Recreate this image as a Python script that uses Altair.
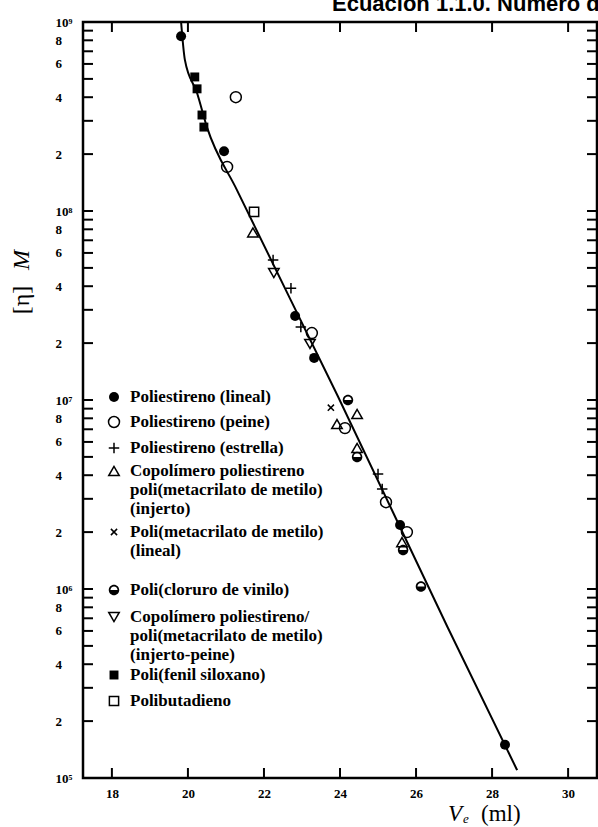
import altair as alt
import pandas as pd

# ---------------- data ----------------
ps_lineal_ve = [19.82, 20.95, 22.82, 23.32, 25.58, 28.34]
ps_lineal_eta = [8.4e8, 2.07e8, 2.78e7, 1.67e7, 2.18e6, 1.5e5]
ps_peine_ve = [21.26, 21.03, 23.26, 24.13, 25.21, 25.76]
ps_peine_eta = [4.0e8, 1.71e8, 2.26e7, 7.1e6, 2.88e6, 2.0e6]
ps_estrella_ve = [22.24, 22.71, 22.97, 25.0, 25.11]
ps_estrella_eta = [5.5e7, 3.9e7, 2.43e7, 4.06e6, 3.38e6]
copol_injerto_ve = [21.71, 23.92, 24.45, 24.45, 25.63]
copol_injerto_eta = [7.7e7, 7.46e6, 8.43e6, 5.57e6, 1.77e6]
pmma_ve = [23.76]
pmma_eta = [9.1e6]
pvc_ve = [24.21, 24.45, 25.66, 26.13]
pvc_eta = [1.0e7, 5.0e6, 1.61e6, 1.03e6]
copol_ip_ve = [22.26, 23.21]
copol_ip_eta = [4.7e7, 1.98e7]
fenil_ve = [20.18, 20.24, 20.37, 20.42]
fenil_eta = [5.12e8, 4.43e8, 3.22e8, 2.78e8]
pbd_ve = [21.74]
pbd_eta = [9.9e7]
curve_ve = [19.82, 19.92, 20.24, 20.50, 21.29, 23.95, 26.84, 28.66]
curve_eta = [1.0e9, 6.3e8, 4.21e8, 2.78e8, 1.29e8, 1.04e7, 6.22e5, 1.10e5]

x_ticks = [18, 20, 22, 24, 26, 28, 30]
y_label_values = [1e5, 2e5, 4e5, 6e5, 8e5, 1e6, 2e6, 4e6, 6e6, 8e6,
                  1e7, 2e7, 4e7, 6e7, 8e7, 1e8, 2e8, 4e8, 6e8, 8e8, 1e9]
y_label_texts = ["10⁵", "2", "4", "6", "8", "10⁶", "2", "4", "6", "8",
                 "10⁷", "2", "4", "6", "8", "10⁸", "2", "4", "6", "8", "10⁹"]
y_tick_decades = [1e5, 1e6, 1e7, 1e8]
y_tick_multipliers = [1, 2, 3, 4, 5, 6, 7, 8, 9]

legend_entries = [
    ("lineal", ["Poliestireno (lineal)"]),
    ("peine", ["Poliestireno (peine)"]),
    ("estrella", ["Poliestireno (estrella)"]),
    ("injerto", ["Copolímero poliestireno", "poli(metacrilato de metilo)", "(injerto)"]),
    ("pmma", ["Poli(metacrilato de metilo)", "(lineal)"]),
    ("pvc", ["Poli(cloruro de vinilo)"]),
    ("injpeine", ["Copolímero poliestireno/", "poli(metacrilato de metilo)", "(injerto-peine)"]),
    ("fenil", ["Poli(fenil siloxano)"]),
    ("pbd", ["Polibutadieno"]),
]

# ---------------- layout / style ----------------
W, H = 514, 756
PL, PT = 83, 22
legend_row_y = [397, 422, 448, 471, 532, 590, 617, 675, 701]
legend_line_gap = 19
legend_sym_x = 114
legend_text_x = 130

HALF = "M-1,0A1,1,0,0,1,1,0L0.68,0A0.68,0.68,0,0,0,-0.68,0ZM-1,0A1,1,0,0,0,1,0Z"
PLUS = "M-1,0L1,0M0,-1L0,1"
XMARK = "M-0.8,-0.8L0.8,0.8M-0.8,0.8L0.8,-0.8"

styles = {
    "lineal": dict(shape="circle", filled=True, size=100),
    "peine": dict(shape="circle", filled=False, size=120),
    "estrella": dict(shape=PLUS, filled=False, size=110),
    "injerto": dict(shape="triangle-up", filled=False, size=110),
    "pmma": dict(shape=XMARK, filled=False, size=60),
    "pvc": dict(shape=HALF, filled=True, size=110),
    "injpeine": dict(shape="triangle-down", filled=False, size=110),
    "fenil": dict(shape="square", filled=True, size=80),
    "pbd": dict(shape="square", filled=False, size=85),
}
series = {
    "lineal": (ps_lineal_ve, ps_lineal_eta),
    "peine": (ps_peine_ve, ps_peine_eta),
    "estrella": (ps_estrella_ve, ps_estrella_eta),
    "injerto": (copol_injerto_ve, copol_injerto_eta),
    "pmma": (pmma_ve, pmma_eta),
    "pvc": (pvc_ve, pvc_eta),
    "injpeine": (copol_ip_ve, copol_ip_eta),
    "fenil": (fenil_ve, fenil_eta),
    "pbd": (pbd_ve, pbd_eta),
}

SERIF = "Liberation Serif"
xscale = alt.Scale(domain=[17.24, 30.76], nice=False, zero=False)
yscale = alt.Scale(type="log", domain=[1e5, 1e9], nice=False)

label_expr = "".join(
    f"abs(datum.value - {v}) < {v * 1e-6} ? '{t}' : "
    for v, t in zip(y_label_values, y_label_texts)
) + "''"

xaxis = alt.Axis(values=x_ticks, ticks=False, tickSize=0, domain=False, grid=False,
                 labelPadding=9, labelFont=SERIF, labelFontWeight="bold",
                 labelFontSize=13, labelColor="black", title=None,
                 labelFlush=False, labelOverlap=False)
yaxis = alt.Axis(values=y_label_values, labelExpr=label_expr, ticks=False, tickSize=0,
                 domain=False, grid=False, labelAlign="left", labelPadding=28,
                 labelBaseline="middle", labelFont=SERIF, labelFontWeight="bold",
                 labelFontSize=13, labelColor="black", title=None,
                 labelFlush=False, labelOverlap=False)

X = alt.X("ve:Q", scale=xscale, axis=xaxis)
Y = alt.Y("eta:Q", scale=yscale, axis=yaxis)

layers = []

# calibration curve
curve_df = pd.DataFrame({"ve": curve_ve, "eta": curve_eta})
layers.append(alt.Chart(curve_df).mark_line(color="black", strokeWidth=2,
                                            interpolate="monotone").encode(x=X, y=Y))

# data points
for key, (ve, eta) in series.items():
    st = styles[key]
    df = pd.DataFrame({"ve": ve, "eta": eta})
    layers.append(
        alt.Chart(df).mark_point(shape=st["shape"], filled=st["filled"], size=st["size"],
                                 color="black", strokeWidth=1.5, opacity=1)
        .encode(x=X, y=Y)
    )

# inward ticks
ytick_df = pd.DataFrame({"eta": [m * d for d in y_tick_decades for m in y_tick_multipliers] + [1e9]})
xtick_df = pd.DataFrame({"ve": x_ticks})
layers.append(alt.Chart(ytick_df).mark_rule(color="black", strokeWidth=2)
              .encode(y=Y, x=alt.value(0), x2=alt.value(10)))
layers.append(alt.Chart(ytick_df).mark_rule(color="black", strokeWidth=2)
              .encode(y=Y, x=alt.value(W - 10), x2=alt.value(W)))
layers.append(alt.Chart(xtick_df).mark_rule(color="black", strokeWidth=2)
              .encode(x=X, y=alt.value(H - 10), y2=alt.value(H)))
layers.append(alt.Chart(xtick_df).mark_rule(color="black", strokeWidth=2)
              .encode(x=X, y=alt.value(0), y2=alt.value(10)))

one = pd.DataFrame({"a": [0]})


def text_layer(txt, x, y, size, align="left", baseline="alphabetic", font=SERIF,
               weight="normal", style="normal", angle=0):
    return alt.Chart(one).mark_text(
        text=txt, align=align, baseline=baseline, font=font, fontSize=size,
        fontWeight=weight, fontStyle=style, angle=angle, color="black"
    ).encode(x=alt.value(x - PL), y=alt.value(y - PT))


# legend
for (key, lines), ry in zip(legend_entries, legend_row_y):
    st = styles[key]
    layers.append(
        alt.Chart(one).mark_point(shape=st["shape"], filled=st["filled"], size=st["size"],
                                  color="black", strokeWidth=1.5, opacity=1)
        .encode(x=alt.value(legend_sym_x - PL), y=alt.value(ry - PT))
    )
    for i, ln in enumerate(lines):
        layers.append(text_layer(ln, legend_text_x, ry + i * legend_line_gap, 17,
                                 baseline="middle", weight="bold"))

# axis titles
layers.append(text_layer("[η]", 22, 300, 24, align="center", baseline="middle", angle=270))
layers.append(text_layer("M", 22, 260, 24, align="center", baseline="middle", style="italic", angle=270))
layers.append(text_layer("V", 448, 821, 23, style="italic"))
layers.append(text_layer("e", 463, 823, 13, style="italic"))
layers.append(text_layer("(ml)", 481, 821, 23))

# page header fragment
layers.append(text_layer("Ecuación 1.1.0. Número de", 332, 11, 22,
                         font="Liberation Sans", weight="bold"))

chart = (
    alt.layer(*layers)
    .properties(width=W, height=H,
                padding={"left": PL, "top": PT, "right": 1, "bottom": 49},
                autosize=alt.AutoSizeParams(type="none"),
                background="white")
    .configure_view(stroke="black", strokeWidth=2.5)
)

chart.save("out.html", embed_options={"renderer": "svg", "actions": False})
